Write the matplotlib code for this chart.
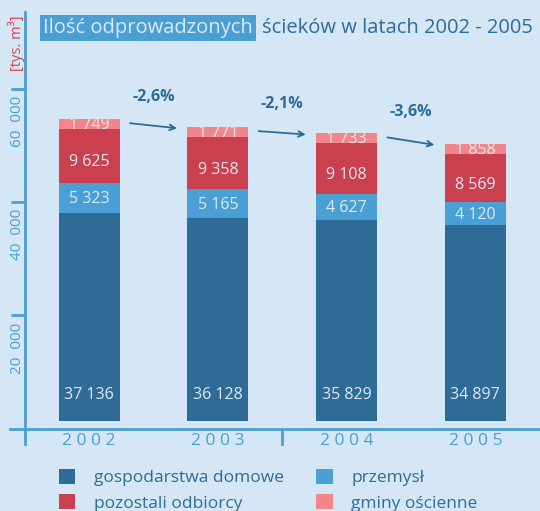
import matplotlib.pyplot as plt
import numpy as np

plt.rcParams['font.family'] = ['Open Sans', 'DejaVu Sans']

years = ['2002', '2003', '2004', '2005']
gospodarstwa = [37136, 36128, 35829, 34897]
przemysl = [5323, 5165, 4627, 4120]
pozostali = [9625, 9358, 9108, 8569]
gminy = [1749, 1771, 1733, 1858]
series_names = ['gospodarstwa domowe', 'przemysł', 'pozostali odbiorcy', 'gminy ościenne']
yticks = [20000, 40000, 60000]

bg = '#d5e7f5'
dark = '#2e6b96'
mid = '#4a9fd4'
red = '#cb404e'
pink = '#f2868b'
light = '#dfe9f3'
colors = [dark, mid, red, pink]

W, H = 540, 511
fig = plt.figure(figsize=(W / 100, H / 100), dpi=100, facecolor=bg)
ax = fig.add_axes([24.8 / W, (H - 428.6) / H, (W - 24.8) / W, (428.6 - 12) / H])
ax.set_facecolor('none')

upp = 178.43  # data units per pixel
ax.set_ylim(-7.9 * upp, 408.7 * upp)
ax.set_xlim(-0.5, 3.503)

x = np.arange(len(years))
data = [gospodarstwa, przemysl, pozostali, gminy]
bottom = np.zeros(len(years))
bars = []
label_shift = [None, -1, -6.5, -1]  # pixels, label nudge inside segment
for k, vals in enumerate(data):
    vals = np.array(vals)
    b = ax.bar(x, vals, 0.474, bottom=bottom, color=colors[k], label=series_names[k])
    bars.append(b)
    for i in range(len(years)):
        txt = '{:,}'.format(vals[i]).replace(',', ' ')
        if k == 0:
            ax.text(x[i], 4585, txt, ha='center', va='center', color=light, fontsize=11.5)
        else:
            yc = bottom[i] + vals[i] / 2 + label_shift[k] * upp
            ax.text(x[i], yc, txt, ha='center', va='center', color=light, fontsize=11.5)
    bottom = bottom + vals

# change between years, arrows between the bar tops
totals = bottom
for i in range(len(years) - 1):
    pct = (totals[i + 1] / totals[i] - 1) * 100
    start = (x[i] + 0.317, totals[i] - 750)
    end = (x[i + 1] - 0.317, totals[i + 1] - 230)
    ax.annotate('', xy=end, xytext=start,
                arrowprops=dict(arrowstyle='->', color=dark, lw=1.3, shrinkA=0, shrinkB=0))
    midp = ((start[0] + end[0]) / 2, (start[1] + end[1]) / 2)
    ax.annotate('{:.1f}%'.format(pct).replace('.', ','), xy=midp, xytext=(0, 29),
                textcoords='offset pixels', ha='center', va='center',
                color=dark, fontsize=11.5, fontweight='bold')

# axes lines
for s in ax.spines.values():
    s.set_visible(False)
ax.set_xticks([])
ax.set_yticks([])
ax.axhline(ax.get_ylim()[0], xmin=-0.028, xmax=1, color=mid, lw=2, clip_on=False)
ax.axvline(-0.5, ymin=-0.037, ymax=1, color=mid, lw=2, clip_on=False)
ax.axvline(1.5, ymin=-0.037, ymax=-0.005, color=mid, lw=2, clip_on=False)

# printed tick scale has its zero on the axis line
def to_tick(y):
    return (7.9 + y / upp) * 176.5

def from_tick(t):
    return (t / 176.5 - 7.9) * upp

sec = ax.secondary_yaxis('left', functions=(to_tick, from_tick))
sec.spines['left'].set_visible(False)
sec.set_yticks(yticks)
sec.set_yticklabels([])
sec.tick_params(axis='y', length=10, width=2, color=mid)
for t in yticks:
    ax.annotate('{:,}'.format(t).replace(',', '  '), xy=(0, from_tick(t)),
                xycoords=('axes fraction', 'data'), xytext=(-7, -7),
                textcoords='offset pixels', rotation=90, ha='center', va='top',
                color=mid, fontsize=11)

for i, yr in enumerate(years):
    ax.text(x[i], -0.03, ' '.join(yr), transform=ax.get_xaxis_transform(),
            ha='center', va='center', color=mid, fontsize=12.5)

fig.text(16.5 / W, (H - 43.5) / H, '[tys. m³]', rotation=90, ha='center', va='center',
         color='#d9404f', fontsize=10.5)

# title
fig.text(43 / W, (H - 32.7) / H, 'Ilość odprowadzonych', ha='left', va='baseline',
         color=light, fontsize=14.5,
         bbox=dict(boxstyle='square,pad=0.15', fc=mid, ec='none'))
fig.text(261.7 / W, (H - 32.7) / H, 'ścieków w latach 2002 - 2005', ha='left',
         va='baseline', color=dark, fontsize=14.5)

handles = [bars[0], bars[2], bars[1], bars[3]]
labels = [series_names[0], series_names[2], series_names[1], series_names[3]]
fig.legend(handles, labels, ncol=2, loc='upper left',
           bbox_to_anchor=(58.5 / W, (H - 469) / H), frameon=False,
           fontsize=12.5, labelcolor=dark, handlelength=0.95, handleheight=0.95,
           handletextpad=1.07, columnspacing=1.87, labelspacing=0.46,
           borderpad=0, borderaxespad=0)

fig.savefig('out.png', dpi=100, facecolor=bg)
